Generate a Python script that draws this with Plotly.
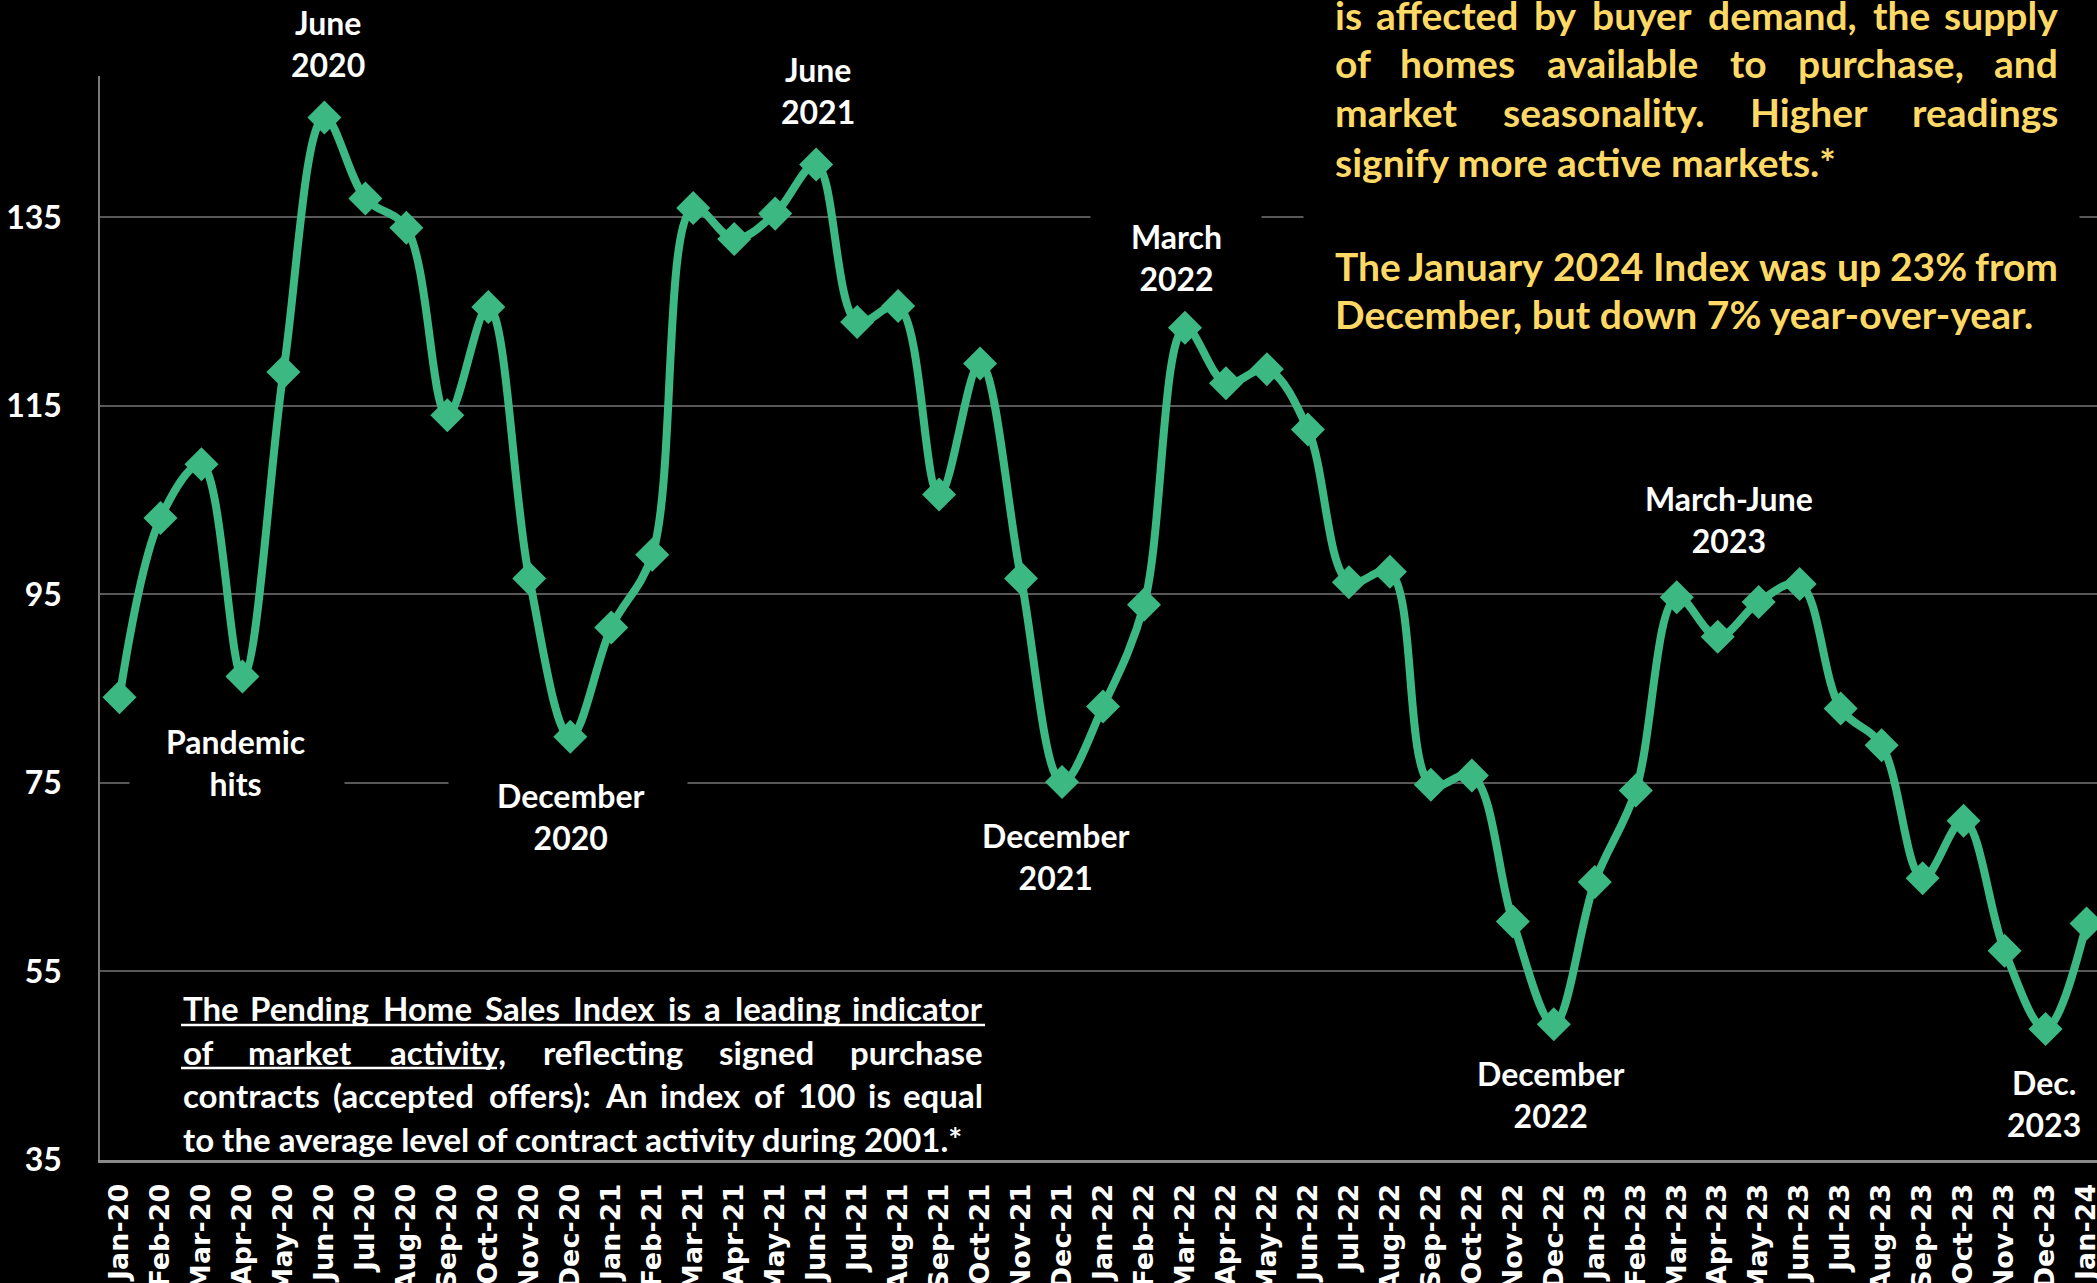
import plotly.graph_objects as go

# ---- data -------------------------------------------------------------
months = [
    "Jan-20", "Feb-20", "Mar-20", "Apr-20", "May-20", "Jun-20", "Jul-20", "Aug-20",
    "Sep-20", "Oct-20", "Nov-20", "Dec-20",
    "Jan-21", "Feb-21", "Mar-21", "Apr-21", "May-21", "Jun-21", "Jul-21", "Aug-21",
    "Sep-21", "Oct-21", "Nov-21", "Dec-21",
    "Jan-22", "Feb-22", "Mar-22", "Apr-22", "May-22", "Jun-22", "Jul-22", "Aug-22",
    "Sep-22", "Oct-22", "Nov-22", "Dec-22",
    "Jan-23", "Feb-23", "Mar-23", "Apr-23", "May-23", "Jun-23", "Jul-23", "Aug-23",
    "Sep-23", "Oct-23", "Nov-23", "Dec-23",
    "Jan-24",
]

pending_index = [
    84.1, 103.1, 108.8, 86.3, 118.6, 145.6, 137.0, 133.9, 114.0, 125.5, 96.7, 79.9,
    91.5, 99.2, 136.0, 132.7, 135.4, 140.6, 123.9, 125.6, 105.6, 119.5, 96.7, 75.1,
    83.1, 93.9, 123.3, 117.4, 118.9, 112.5, 96.3, 97.4, 74.8, 75.8, 60.3, 49.4,
    64.5, 74.2, 94.7, 90.5, 94.2, 96.1, 82.9, 79.0, 64.9, 71.0, 57.2, 48.9,
    60.1,
]

y_ticks = [35, 55, 75, 95, 115, 135]

# ---- layout geometry (pixels) -----------------------------------------
FIG_W, FIG_H = 2097, 1283
PLOT_L, PLOT_R, PLOT_T, PLOT_B = 100, 2097, 76, 1160
X_PER_MONTH = 40.98
X_FIRST = 119.5


def px_x(p):
    return (p - PLOT_L) / (PLOT_R - PLOT_L)


def px_y(p):
    return (PLOT_B - p) / (PLOT_B - PLOT_T)


GREEN = "#3CB983"
YELLOW = "#FFD966"
WHITE = "#FFFFFF"
FONT = "Lato, 'Open Sans', sans-serif"

# approximate Lato Bold advance widths (em), used to spread justified words
EM = {
    "a": .51, "b": .57, "c": .47, "d": .57, "e": .53, "f": .34, "g": .51, "h": .57,
    "i": .26, "j": .26, "k": .53, "l": .26, "m": .85, "n": .57, "o": .57, "p": .57,
    "q": .57, "r": .39, "s": .44, "t": .37, "u": .57, "v": .52, "w": .79, "x": .52,
    "y": .52, "z": .47, "T": .58, "J": .40, "I": .29, "D": .73, "H": .74, "P": .62,
    "S": .52, "M": .90, "A": .68, " ": .193, ",": .23, ".": .23, "(": .32, ")": .32,
    ":": .25, "-": .36, "%": .78, "*": .39,
}


def text_width(s, size):
    total = 0.0
    for c in s:
        if c in EM:
            total += EM[c]
        elif c.isdigit():
            total += .58
        elif c.isupper():
            total += .64
        else:
            total += .5
    return total * size


def text_font(size, color):
    return dict(family=FONT, size=size, color=color, weight=700)


def justified_line(line, left, right, y, size, color):
    words = line.split()
    widths = [text_width(w, size) for w in words]
    gap = (right - left - sum(widths)) / (len(words) - 1)
    out = []
    x = left
    for i, (w, wd) in enumerate(zip(words, widths)):
        if i == 0:
            anchor, xp = "left", left
        elif i == len(words) - 1:
            anchor, xp = "right", right
        else:
            anchor, xp = "center", x + wd / 2
        out.append(dict(text=w, x=px_x(xp), y=px_y(y), xref="paper", yref="paper",
                        xanchor=anchor, yanchor="middle", showarrow=False,
                        font=text_font(size, color)))
        x += wd + gap
    return out


def plain_line(line, left, y, size, color):
    return dict(text=line, x=px_x(left), y=px_y(y), xref="paper", yref="paper",
                xanchor="left", yanchor="middle", showarrow=False,
                font=text_font(size, color))


def black_panel(x0, x1, y0, y1):
    # opaque text-box background that hides the gridlines behind a label
    return dict(text=" ", x=px_x((x0 + x1) / 2), y=px_y((y0 + y1) / 2),
                xref="paper", yref="paper", xanchor="center", yanchor="middle",
                showarrow=False, width=x1 - x0, height=y1 - y0, borderpad=0,
                bgcolor="black", font=text_font(10, "black"))


# ---- figure -----------------------------------------------------------
x_idx = list(range(len(months)))

fig = go.Figure()
fig.add_trace(go.Scatter(
    x=x_idx, y=pending_index, mode="lines+markers",
    line=dict(color=GREEN, width=8, shape="spline", smoothing=1.0),
    marker=dict(symbol="diamond", size=24, color=GREEN,
                line=dict(color=GREEN, width=2)),
    hoverinfo="skip", showlegend=False,
))

x_lo = (PLOT_L - X_FIRST) / X_PER_MONTH
x_hi = (PLOT_R - X_FIRST) / X_PER_MONTH

annotations = []

# text-box backgrounds
annotations.append(black_panel(130, 344, 715, 812))
annotations.append(black_panel(449, 687, 770, 862))
annotations.append(black_panel(1091, 1261, 212, 305))
annotations.append(black_panel(1304, 2079, -20, 335))

# peak / trough callouts
callouts = [
    ("June<br>2020", 328, 44),
    ("June<br>2021", 818, 91),
    ("Pandemic<br>hits", 235, 762),
    ("December<br>2020", 570, 816),
    ("March<br>2022", 1176, 258),
    ("December<br>2021", 1055, 856),
    ("March-June<br>2023", 1729, 519),
    ("December<br>2022", 1550, 1094),
    ("Dec.<br>2023", 2044, 1103),
]
for txt, cx, cy in callouts:
    annotations.append(dict(text=txt, x=px_x(cx), y=px_y(cy), xref="paper", yref="paper",
                            xanchor="center", yanchor="middle", showarrow=False,
                            align="center", font=text_font(32, WHITE)))

# explanatory note, lower left
NOTE_L, NOTE_R, NOTE_SIZE = 181, 985, 33
annotations += justified_line("The Pending Home Sales Index is a leading indicator",
                              NOTE_L, NOTE_R, 1008, NOTE_SIZE, WHITE)
annotations += justified_line("of market activity, reflecting signed purchase",
                              NOTE_L, NOTE_R, 1052, NOTE_SIZE, WHITE)
annotations += justified_line("contracts (accepted offers): An index of 100 is equal",
                              NOTE_L, NOTE_R, 1095, NOTE_SIZE, WHITE)
annotations.append(plain_line("to the average level of contract activity during 2001.*",
                              NOTE_L, 1139, NOTE_SIZE, WHITE))

# commentary, upper right
SIDE_L, SIDE_R, SIDE_SIZE = 1333, 2060, 39
annotations += justified_line("is affected by buyer demand, the supply",
                              SIDE_L, SIDE_R, 15, SIDE_SIZE, YELLOW)
annotations += justified_line("of homes available to purchase, and",
                              SIDE_L, SIDE_R, 63, SIDE_SIZE, YELLOW)
annotations += justified_line("market seasonality. Higher readings",
                              SIDE_L, SIDE_R, 112, SIDE_SIZE, YELLOW)
annotations.append(plain_line("signify more active markets.*", SIDE_L, 162, SIDE_SIZE, YELLOW))
annotations += justified_line("The January 2024 Index was up 23% from",
                              SIDE_L, SIDE_R, 266, SIDE_SIZE, YELLOW)
annotations.append(plain_line("December, but down 7% year-over-year.", SIDE_L, 314, SIDE_SIZE, YELLOW))

# underline of the definition phrase
shapes = []
for x0, x1, yy in [(181, 985, 1025), (181, 497, 1068)]:
    shapes.append(dict(type="line", xref="paper", yref="paper",
                       x0=px_x(x0), x1=px_x(x1), y0=px_y(yy), y1=px_y(yy),
                       line=dict(color=WHITE, width=2.5), layer="above"))

fig.update_layout(
    width=FIG_W, height=FIG_H,
    paper_bgcolor="black", plot_bgcolor="black",
    margin=dict(l=PLOT_L, r=FIG_W - PLOT_R, t=PLOT_T, b=FIG_H - PLOT_B, pad=0),
    showlegend=False, hovermode=False,
    annotations=annotations, shapes=shapes,
    xaxis=dict(
        range=[x_lo, x_hi], tickmode="array", tickvals=x_idx, ticktext=months,
        tickangle=-90, showgrid=False, zeroline=False,
        showline=True, linecolor="#8a8a8a", linewidth=3,
        ticks="", ticklabelstandoff=10, automargin=False,
        ticklabeloverflow="allow",
        tickfont=dict(family="'DejaVu Sans', sans-serif", size=27, color=WHITE, weight=700),
    ),
    yaxis=dict(
        range=[35, 150], tickmode="array", tickvals=y_ticks,
        showgrid=True, gridcolor="#585858", gridwidth=1.5, zeroline=False,
        showline=True, linecolor="#7a7a7a", linewidth=1.5,
        ticks="", ticklabelstandoff=30, automargin=False,
        tickfont=dict(family=FONT, size=32, color=WHITE, weight=700),
    ),
)

fig.write_html("out.html", config={"displayModeBar": False})
